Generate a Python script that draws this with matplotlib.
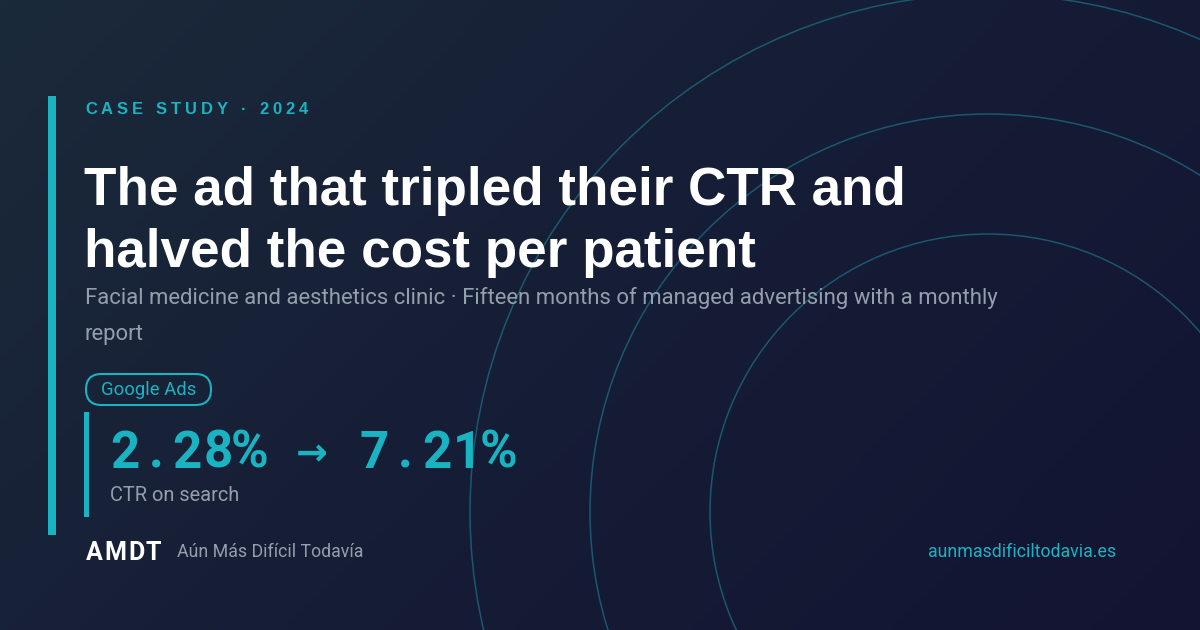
import matplotlib
matplotlib.use("Agg")
import matplotlib.pyplot as plt
import numpy as np
from matplotlib.patches import Circle, FancyBboxPatch, Rectangle
from matplotlib.colors import LinearSegmentedColormap

# card content
eyebrow = "CASE STUDY · 2024"
title_lines = ["The ad that tripled their CTR and", "halved the cost per patient"]
subtitle_lines = ["Facial medicine and aesthetics clinic · Fifteen months of managed advertising with a monthly",
                  "report"]
channel = "Google Ads"
ctr_before = 2.28
ctr_after = 7.21
metric_label = "CTR on search"
brand = "AMDT"
brand_name = "Aún Más Difícil Todavía"
site = "aunmasdificiltodavia.es"
ring_radii = [278, 398, 518]

W, H = 1200, 630
PX = 72 / 100  # px -> pt at dpi 100
TEAL = "#19b3c2"
GREY = "#949fad"
FAM = ["Roboto", "DejaVu Sans"]

fig = plt.figure(figsize=(12, 6.3), dpi=100)
ax = fig.add_axes([0, 0, 1, 1])
ax.set_xlim(0, W)
ax.set_ylim(H, 0)
ax.axis("off")

# diagonal background gradient
xx, yy = np.meshgrid(np.linspace(0, 1, 300), np.linspace(0, 1, 160))
grad = (xx * W + yy * H) / (W + H)
cmap = LinearSegmentedColormap.from_list("bg", ["#1b2a3a", "#161d36", "#131432"])
ax.imshow(grad, cmap=cmap, extent=[0, W, H, 0], aspect="auto", zorder=0)

for r in ring_radii:
    ax.add_patch(Circle((988, 512), r, fill=False, edgecolor="#1f8a9c", alpha=0.55, lw=1.1, zorder=1))

# accent bars
ax.add_patch(Rectangle((48, 96), 8, 439, color=TEAL, lw=0, zorder=2))
ax.add_patch(Rectangle((84, 412), 5, 105, color=TEAL, lw=0, zorder=2))

fig.canvas.draw()
renderer = fig.canvas.get_renderer()


def spaced_text(x, y, s, spacing, **kw):
    # draw a string char by char to get letter spacing
    for ch in s:
        t = ax.text(x, y, ch, **kw)
        x += t.get_window_extent(renderer).width + spacing


spaced_text(85, 114, eyebrow, 4.1, fontsize=16.5 * PX, color=TEAL, fontweight="bold",
            family="Liberation Sans", va="baseline", zorder=3)

for i, line in enumerate(title_lines):
    ax.text(84, 205 + i * 62, line, fontsize=53 * PX, color="white", fontweight="bold",
            family="Liberation Sans", va="baseline", zorder=3)

for i, line in enumerate(subtitle_lines):
    ax.text(85, 304 + i * 36, line, fontsize=22.2 * PX, color=GREY,
            family=FAM, va="baseline", zorder=3)

# channel pill
ax.add_patch(FancyBboxPatch((86, 374), 125, 31, boxstyle="round,pad=0,rounding_size=15.5",
                            fill=False, edgecolor=TEAL, lw=1.5, zorder=3))
ax.text(148.5, 390, channel, fontsize=18.5 * PX, color=TEAL, family=FAM,
        ha="center", va="center", zorder=3)

# big KPI, monospaced by placing each glyph in a fixed cell
kpi = f"{ctr_before:.2f}% → {ctr_after:.2f}%"
cell = 31.2
x0 = 109
for i, ch in enumerate(kpi):
    cx = x0 + cell * (i + 0.5)
    if ch == "→":
        ax.text(cx, 455, ch, fontsize=38 * PX, color=TEAL, fontweight="bold", family=FAM,
                ha="center", va="center", zorder=3)
    else:
        ax.text(cx, 468, ch, fontsize=51 * PX, color=TEAL, fontweight="bold", family=FAM,
                ha="center", va="baseline", zorder=3)

ax.text(110, 501, metric_label, fontsize=20 * PX, color=GREY, family=FAM,
        va="baseline", zorder=3)

spaced_text(86, 560, brand, 1.5, fontsize=25 * PX, color="white", fontweight="bold",
            family=FAM, va="baseline", zorder=3)
ax.text(177, 557, brand_name, fontsize=17.8 * PX, color=GREY, family=FAM,
        va="baseline", zorder=3)
ax.text(1116, 557, site, fontsize=17.8 * PX, color=TEAL, family=FAM,
        ha="right", va="baseline", zorder=3)

fig.savefig("out.png", dpi=100)
